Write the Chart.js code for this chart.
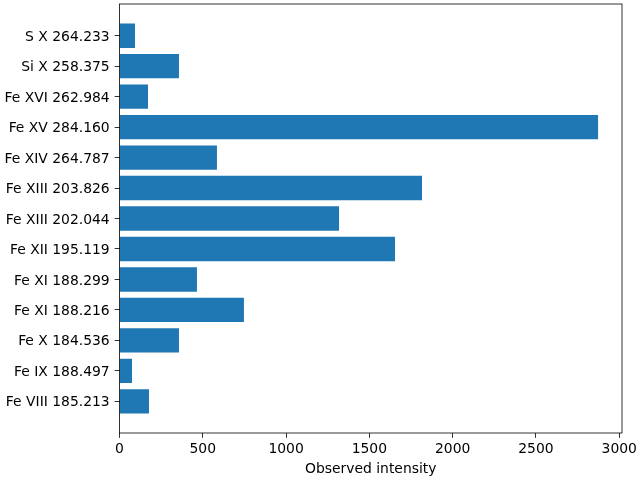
<!DOCTYPE html>
<html>
<head>
<meta charset="utf-8">
<script src="https://cdn.jsdelivr.net/npm/chart.js@4/dist/chart.umd.min.js"></script>
<style>
html,body{margin:0;padding:0;background:#fff;}
#c{display:block;}
</style>
</head>
<body>
<canvas id="c" width="640" height="480"></canvas>
<script>
// bottom to top
const lineLabels = [
  "Fe VIII 185.213", "Fe IX 188.497", "Fe X 184.536", "Fe XI 188.216",
  "Fe XI 188.299", "Fe XII 195.119", "Fe XIII 202.044", "Fe XIII 203.826",
  "Fe XIV 264.787", "Fe XV 284.160", "Fe XVI 262.984", "Si X 258.375", "S X 264.233"
];
const intensities = [177, 75, 357, 747, 465, 1654, 1318, 1816, 585, 2873, 171, 357, 93];
const xTicks = [0, 500, 1000, 1500, 2000, 2500, 3000];
const xLabel = "Observed intensity";

const FONT = {family: "'DejaVu Sans', sans-serif", size: 13.9};
const xMax = Math.max(...intensities) * 1.05;
const yMin = -0.4 - 0.05 * (lineLabels.length - 1 + 0.8);
const yMax = lineLabels.length - 1 + 0.4 + 0.05 * (lineLabels.length - 1 + 0.8);

const frame = {
  id: 'frame',
  afterDraw(chart) {
    const a = chart.chartArea, ctx = chart.ctx;
    ctx.save();
    ctx.strokeStyle = '#000';
    ctx.lineWidth = 0.8;
    ctx.strokeRect(a.left, a.top, a.right - a.left, a.bottom - a.top);
    ctx.restore();
  }
};

new Chart(document.getElementById('c'), {
  type: 'bar',
  data: {
    datasets: [{
      data: intensities.map((v, i) => ({x: v, y: i})),
      backgroundColor: '#1f77b4',
      borderWidth: 0,
      barPercentage: 0.8,
      categoryPercentage: 1.0
    }]
  },
  options: {
    indexAxis: 'y',
    responsive: false,
    animation: false,
    devicePixelRatio: 1,
    layout: {padding: {top: 4, right: 18, left: 0, bottom: 0}},
    plugins: {legend: {display: false}, tooltip: {enabled: false}},
    scales: {
      x: {
        type: 'linear',
        offset: false,
        min: 0,
        max: xMax,
        afterBuildTicks(s) { s.ticks = xTicks.map(v => ({value: v})); },
        afterFit(s) { s.height = 47; s.paddingLeft = 0; s.paddingRight = 0; },
        border: {display: false},
        grid: {display: true, offset: false, drawOnChartArea: false, drawTicks: true, tickLength: 4.9, color: '#000', lineWidth: 0.8},
        ticks: {color: '#000', font: FONT, padding: 3, maxRotation: 0, autoSkip: false,
          callback: (v) => String(v)},
        title: {display: true, text: xLabel, color: '#000', font: FONT, padding: {top: 0, bottom: 2}}
      },
      y: {
        type: 'linear',
        offset: false,
        min: yMin,
        max: yMax,
        afterBuildTicks(s) { s.ticks = lineLabels.map((_, i) => ({value: i})); },
        afterFit(s) { s.width = 119.5; s.paddingTop = 0; s.paddingBottom = 0; },
        border: {display: false},
        grid: {display: true, offset: false, drawOnChartArea: false, drawTicks: true, tickLength: 4.9, color: '#000', lineWidth: 0.8},
        ticks: {color: '#000', font: FONT, padding: 4.9, autoSkip: false, labelOffset: 1.5,
          callback: (v) => lineLabels[v]}
      }
    }
  },
  plugins: [frame]
});
</script>
</body>
</html>
